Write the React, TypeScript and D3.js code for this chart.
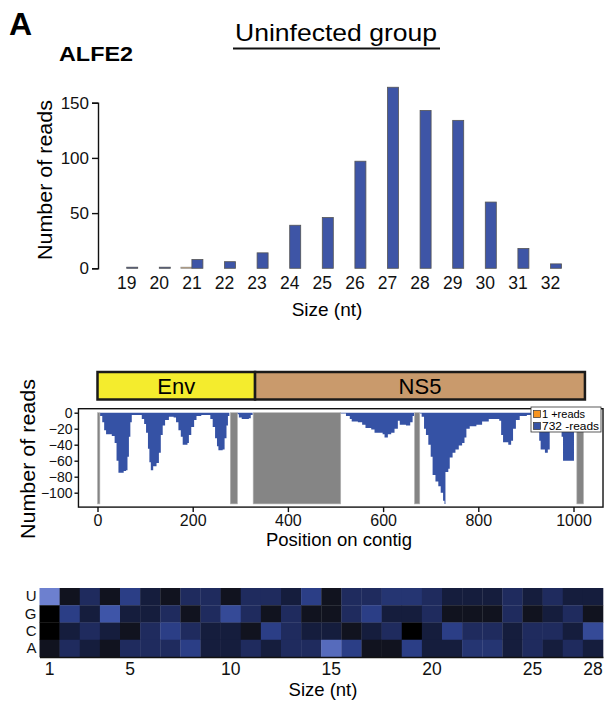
import React, { useEffect, useRef } from "react";
import * as d3 from "d3";

const FONT = "'Liberation Sans', Arial, Helvetica, sans-serif";

// size distribution (top panel)
const sizes = ["19", "20", "21", "22", "23", "24", "25", "26", "27", "28", "29", "30", "31", "32"];
const plusReads = [0, 0, 1, 0, 0, 0, 0, 0, 0, 0, 0, 0, 0, 0];
const minusReads = [1, 1, 8, 6, 14, 39, 46, 97, 164, 143, 134, 60, 18, 4];
const topTicks = [0, 50, 100, 150];

// coverage along contig (position, depth of -reads)
const coverage: [number, number][] = [
  [5, 4], [10, 12], [14, 22], [18, 27], [30, 29], [36, 38], [40, 60], [44, 75], [55, 73], [60, 72],
  [63, 55], [66, 30], [69, 12], [72, 3], [90, 3], [93, 8], [98, 14], [102, 25], [106, 45], [109, 62],
  [112, 72], [117, 67], [124, 63], [129, 50], [133, 28], [137, 16], [142, 9], [150, 5], [160, 6],
  [165, 12], [170, 22], [175, 30], [179, 40], [189, 38], [192, 28], [197, 18], [203, 9], [208, 4],
  [218, 3], [233, 3], [237, 8], [242, 18], [247, 32], [251, 42], [254, 47], [263, 46], [267, 32],
  [271, 16], [274, 4], [277, 0], [293, 2], [297, 6], [303, 8], [318, 7], [322, 3], [326, 0],
  [509, 1], [522, 4], [530, 8], [534, 11], [547, 12], [556, 15], [563, 19], [575, 21], [582, 25],
  [599, 27], [603, 31], [610, 27], [617, 25], [624, 20], [631, 10], [635, 15], [648, 16], [657, 12],
  [662, 4], [665, 0], [677, 1], [681, 5], [686, 20], [690, 28], [695, 40], [700, 55], [704, 78],
  [710, 86], [716, 92], [721, 100], [726, 110], [729, 114], [731, 74], [737, 70], [740, 56],
  [746, 50], [752, 46], [759, 41], [766, 38], [771, 31], [775, 20], [782, 17], [796, 15], [808, 11],
  [822, 8], [844, 10], [848, 28], [852, 37], [863, 40], [869, 35], [873, 20], [879, 9], [887, 4],
  [902, 3], [912, 5], [920, 8], [924, 20], [928, 35], [931, 46], [940, 50], [946, 46], [950, 22],
  [954, 6], [958, 4], [972, 5], [975, 30], [978, 60], [998, 60], [1001, 10], [1004, 0],
];
const gapBlocks: [number, number][] = [[0, 5], [279, 294], [327, 511], [666, 677], [1007, 1021]];
const geneNames = ["Env", "NS5"];
const geneStarts = [0, 331];
const geneEnds = [331, 1024];
const covXTicks = [0, 200, 400, 600, 800, 1000];
const covYTicks = [0, -20, -40, -60, -80, -100];

// nucleotide frequency per position (0 = low .. 6 = high)
const bases = ["U", "G", "C", "A"];
const positions = d3.range(1, 29).map(String);
const posTicks = ["1", "5", "10", "15", "20", "25", "28"];
const freqU = [6, 1, 3, 1, 4, 2, 1, 3, 3, 1, 3, 3, 2, 4, 1, 3, 3, 3.5, 3.5, 3, 2, 2, 2, 3, 2, 3, 2, 2];
const freqG = [0, 4, 2, 5, 2, 2, 3, 1, 3, 4.5, 3, 1, 3, 1, 1, 3, 4, 2, 2, 3, 1, 1, 1, 3, 1, 2, 3, 1];
const freqC = [0, 2, 3, 2, 1, 3, 4, 3, 2, 2, 1, 4, 3, 2, 2, 1, 2, 3, 0, 2, 4, 3, 3, 2, 3, 3, 2, 4.5];
const freqA = [1, 3, 2, 1, 3, 3, 3, 4, 2, 2, 3, 2, 3, 3, 5.5, 4, 1, 1, 4, 2, 2, 3.5, 3.5, 2, 3, 2, 3, 2];

function Axis({ axis, transform, fontSize, noDomain }: any) {
  const ref = useRef<SVGGElement>(null);
  useEffect(() => {
    const g = d3.select(ref.current);
    g.selectAll("*").remove();
    g.call(axis);
    g.attr("font-family", null).attr("font-size", null);
    g.selectAll("text").attr("font-size", fontSize).attr("font-family", FONT).attr("fill", "#111");
    g.selectAll("line,path").attr("stroke", "#111").attr("stroke-width", 1.4);
    if (noDomain) g.select(".domain").remove();
  });
  return <g ref={ref} transform={transform} />;
}

export default function App() {
  // ---- top panel scales
  const xTop = d3.scaleBand().domain(sizes).range([110.4, 566.8]).paddingInner(0.325).paddingOuter(0.1625);
  const xSub = d3.scaleBand().domain(["plus", "minus"]).range([0, xTop.bandwidth()]);
  const yTop = d3.scaleLinear().domain([0, 150]).range([268.3, 102.7]);

  // ---- coverage scales
  const xCov = d3.scaleLinear().domain([0, 1000]).range([97.5, 573.5]);
  const yCov = d3.scaleLinear().domain([0, -100]).range([412.7, 492.7]);
  const frame = { x0: xCov(-40), x1: xCov(1062), y0: yCov(5), y1: yCov(-118) };
  const area = d3.area<[number, number]>()
    .x(d => xCov(d[0]))
    .y0(yCov(0))
    .y1(d => yCov(-d[1]))
    .curve(d3.curveStepAfter);

  // ---- heatmap scales
  const xHeat = d3.scaleBand().domain(positions).range([39.5, 603]);
  const yHeat = d3.scaleBand().domain(bases).range([588, 657]);
  const color = d3.scaleLinear<string>()
    .domain([0, 1, 2, 3, 4, 5, 6])
    .range(["#000000", "#11131f", "#151d3d", "#1f2b5e", "#2b3e86", "#3e55a8", "#6d80cf"]);
  const freqRows = [freqU, freqG, freqC, freqA];

  return (
    <svg width={608} height={703} style={{ position: "absolute", left: 0, top: 0, background: "#fff" }}
      fontFamily={FONT}>
      <text x={9} y={35} fontSize={32} fontWeight="bold">A</text>
      <text x={59} y={61} fontSize={21} fontWeight="bold" textLength={74} lengthAdjust="spacingAndGlyphs">ALFE2</text>
      <text x={235} y={41} fontSize={24} textLength={202} lengthAdjust="spacingAndGlyphs">Uninfected group</text>
      <line x1={233} x2={440} y1={48.5} y2={48.5} stroke="#111" strokeWidth={2.2} />

      {/* size distribution */}
      {sizes.map((s, i) => (
        <g key={s} transform={`translate(${xTop(s)},0)`}>
          <rect x={xSub("plus")} width={xSub.bandwidth()} y={yTop(plusReads[i])}
            height={yTop(0) - yTop(plusReads[i])} fill="#c9862f" stroke="#999" strokeWidth={0.8} />
          <rect x={xSub("minus")} width={xSub.bandwidth()} y={yTop(minusReads[i])}
            height={yTop(0) - yTop(minusReads[i])} fill="#3e55a6" stroke="#555" strokeWidth={0.8} />
        </g>
      ))}
      <Axis axis={d3.axisLeft(yTop).tickValues(topTicks).tickSize(6).tickPadding(3)}
        transform="translate(98,0)" fontSize={17} />
      <Axis axis={d3.axisBottom(xTop).tickSize(0).tickPadding(8)}
        transform={`translate(0,${yTop(0)})`} fontSize={17.5} noDomain />
      <text transform="translate(52,180) rotate(-90)" fontSize={20} textAnchor="middle"
        textLength={160} lengthAdjust="spacingAndGlyphs">Number of reads</text>
      <text x={327} y={316} fontSize={19} textAnchor="middle">Size (nt)</text>

      {/* gene map */}
      {geneNames.map((g, i) => (
        <g key={g}>
          <rect x={xCov(geneStarts[i])} width={xCov(geneEnds[i]) - xCov(geneStarts[i])} y={372} height={27.5}
            fill={i === 0 ? "#f4ec2d" : "#c99a6c"} stroke="#1a1a1a" strokeWidth={2.5} />
          <text x={(xCov(geneStarts[i]) + xCov(geneEnds[i])) / 2} y={393.5} fontSize={22} textAnchor="middle">{g}</text>
        </g>
      ))}

      {/* coverage */}
      <path d={area(coverage) || ""} fill="#3552a5" />
      {gapBlocks.map(([a, b], i) => (
        <rect key={i} x={xCov(a)} width={xCov(b) - xCov(a)} y={yCov(0)} height={yCov(-114) - yCov(0)}
          fill="#858585" stroke="#b5b5b5" strokeWidth={0.6} />
      ))}
      <rect x={frame.x0} y={frame.y0} width={frame.x1 - frame.x0} height={frame.y1 - frame.y0}
        fill="none" stroke="#111" strokeWidth={1.4} />
      <Axis axis={d3.axisLeft(yCov).tickValues(covYTicks).tickSize(4).tickPadding(2)}
        transform={`translate(${frame.x0},0)`} fontSize={14} noDomain />
      <Axis axis={d3.axisBottom(xCov).tickValues(covXTicks).tickFormat(d3.format("d")).tickSize(5).tickPadding(3)}
        transform={`translate(0,${frame.y1})`} fontSize={16} noDomain />
      <g>
        <rect x={531} y={407} width={70} height={25} fill="#fff" stroke="#333" strokeWidth={0.8} />
        <rect x={533.5} y={410.5} width={7} height={7} fill="#f7941d" stroke="#333" strokeWidth={0.7} />
        <rect x={533.5} y={422.5} width={7} height={7} fill="#3552a5" stroke="#333" strokeWidth={0.7} />
        <text x={542} y={418} fontSize={11}>1 +reads</text>
        <text x={542} y={430} fontSize={11} textLength={57} lengthAdjust="spacingAndGlyphs">732 -reads</text>
      </g>
      <text transform="translate(35,459) rotate(-90)" fontSize={20} textAnchor="middle"
        textLength={160} lengthAdjust="spacingAndGlyphs">Number of reads</text>
      <text x={339} y={546} fontSize={18.5} textAnchor="middle">Position on contig</text>

      {/* nucleotide heatmap */}
      {bases.map((b, r) => positions.map((p, c) => (
        <rect key={b + p} x={xHeat(p)} y={yHeat(b)} width={xHeat.bandwidth() + 0.3}
          height={yHeat.bandwidth() + 0.3} fill={color(freqRows[r][c])} />
      )))}
      <Axis axis={d3.axisLeft(yHeat).tickSize(0).tickPadding(3)}
        transform={`translate(${xHeat.range()[0]},0)`} fontSize={15} noDomain />
      <Axis axis={d3.axisBottom(xHeat).tickValues(posTicks).tickSize(0).tickSizeOuter(0).tickPadding(6)}
        transform={`translate(0,${yHeat.range()[1]})`} fontSize={17.5} />
      <text x={323} y={696} fontSize={18.5} textAnchor="middle">Size (nt)</text>
    </svg>
  );
}
